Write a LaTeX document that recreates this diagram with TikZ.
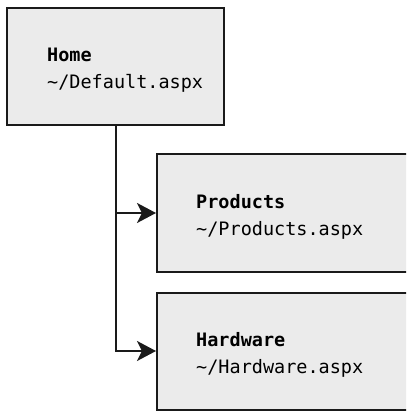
\documentclass[tikz,border=0pt]{standalone}
\usepackage{fontspec}
\setmonofont{DejaVu Sans Mono}
\usepackage{xcolor}
\usepackage{tikz}
\usetikzlibrary{arrows.meta,positioning}

\definecolor{boxfill}{RGB}{235,235,235}
\definecolor{boxline}{RGB}{26,26,26}

\begin{document}
\begin{tikzpicture}[
        x=1pt,
        y=-1pt,
        box/.style={
            draw=boxline,
            fill=boxfill,
            line width=2pt,
            inner sep=0pt,
            minimum height=117pt
        },
        pagename/.style={
            anchor=west,
            align=left,
            inner sep=0pt,
            font=\ttfamily\fontsize{18.5}{27}\selectfont
        },
        flow/.style={-{Stealth[length=19pt,width=20pt,inset=5pt]}, line width=2pt, draw=boxline}
    ]
        % Page size and clipping (the right boxes run off the edge).
        \useasboundingbox (0,0) rectangle (406,411);
        \clip (0,0) rectangle (406,411);

        \node[box, minimum width=217pt] (home) at (115.5,66.5) {};
        \node[box, minimum width=263pt] (products) at (288.5,213) {};
        \node[box, minimum width=263pt] (hardware) at (288.5,351) {};

        \node[pagename] (home txt) at ([xshift=41pt,yshift=-4pt]home.west) {\textbf{Home}\\\textasciitilde/Default.aspx};
        \node[pagename] (products txt) at ([xshift=40pt,yshift=-4pt]products.west) {\textbf{Products}\\\textasciitilde/Products.aspx};
        \node[pagename] (hardware txt) at ([xshift=40pt,yshift=-4pt]hardware.west) {\textbf{Hardware}\\\textasciitilde/Hardware.aspx};

        \draw[flow] (home.south) |- (hardware.west);
        \draw[flow] (home.south |- products.west) -- (products.west);

    \end{tikzpicture}
\end{document}
